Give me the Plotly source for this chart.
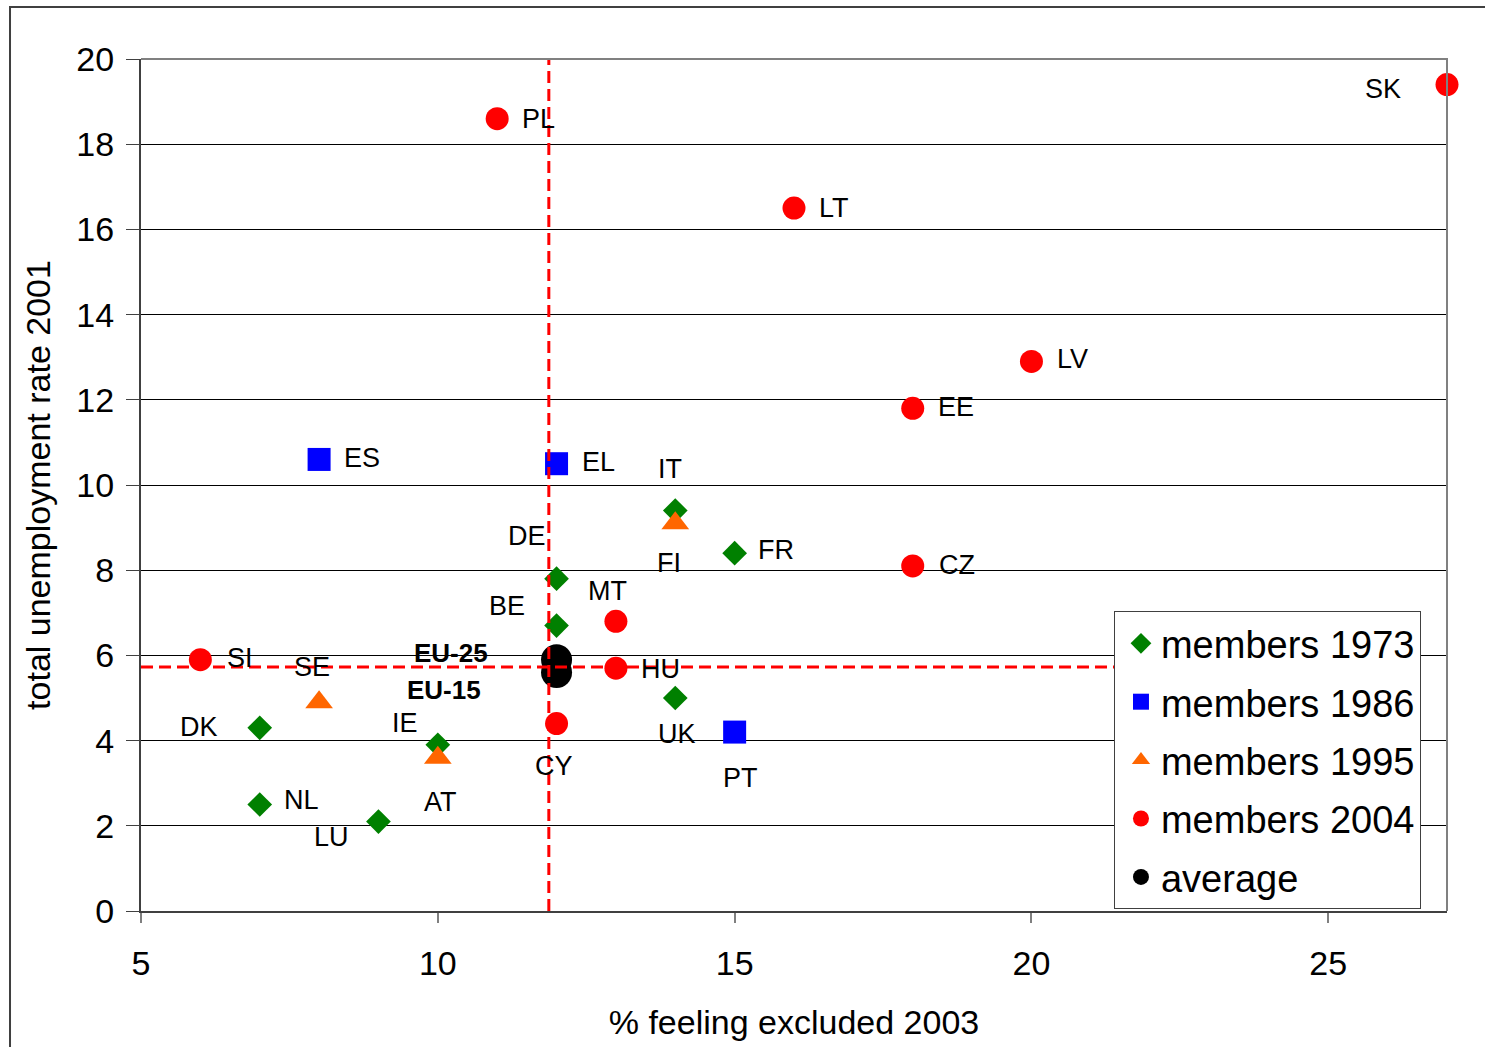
import plotly.graph_objects as go

# EU member states grouped by accession year: % feeling excluded (2003) vs unemployment (2001)
c1973 = ["IT", "FR", "DE", "BE", "UK", "DK", "IE", "NL", "LU"]
x1973 = [14, 15, 12, 12, 14, 7, 10, 7, 9]
y1973 = [9.4, 8.4, 7.8, 6.7, 5.0, 4.3, 3.9, 2.5, 2.1]

c1986 = ["ES", "EL", "PT"]
x1986 = [8, 12, 15]
y1986 = [10.6, 10.5, 4.2]

c1995 = ["FI", "SE", "AT"]
x1995 = [14, 8, 10]
y1995 = [9.1, 4.9, 3.6]

c2004 = ["SK", "PL", "LT", "LV", "EE", "CZ", "MT", "HU", "SI", "CY"]
x2004 = [27, 11, 16, 20, 18, 18, 13, 13, 6, 12]
y2004 = [19.4, 18.6, 16.5, 12.9, 11.8, 8.1, 6.8, 5.7, 5.9, 4.4]

c_avg = ["EU-25", "EU-15"]
x_avg = [12, 12]
y_avg = [5.9, 5.6]

# reference lines through the averages
ref_excluded = 11.87
ref_unemployment = 5.73

x_ticks = [5, 10, 15, 20, 25]
y_ticks = [0, 2, 4, 6, 8, 10, 12, 14, 16, 18, 20]

# label placement (pixel offsets from each marker)
label_offsets = {
    "SK": (-64, -4), "PL": (41, 0), "LT": (40, 0), "LV": (41, 2), "EE": (43, 1),
    "CZ": (44, 1), "ES": (43, 1), "EL": (42, 2), "IT": (-5, 42), "DE": (-30, 43),
    "FI": (-6, -40), "FR": (41, 3), "MT": (-8, 30), "BE": (-50, 20), "SI": (40, 2),
    "SE": (-7, 35), "EU-25": (-106, 7), "EU-15": (-113, -18), "HU": (45, -1),
    "UK": (2, -36), "DK": (-61, 1), "IE": (-33, 22), "CY": (-3, -42), "PT": (6, -46),
    "AT": (3, -44), "NL": (42, 5), "LU": (-47, -15),
}

FONT = "Liberation Sans, Arial, sans-serif"

groups = [
    ("members 1973", c1973, x1973, y1973, "diamond", "#008000", 19),
    ("members 1986", c1986, x1986, y1986, "square", "#0000FF", 23),
    ("members 1995", c1995, x1995, y1995, "triangle-up", "#FF6600", 24),
    ("members 2004", c2004, x2004, y2004, "circle", "#FF0000", 23),
    ("average", c_avg, x_avg, y_avg, "circle", "#000000", 31),
]

fig = go.Figure()
for name, codes, xs, ys, symbol, color, size in groups:
    fig.add_trace(go.Scatter(
        x=xs, y=ys, mode="markers", name=name, legendgroup=name, cliponaxis=False,
        marker=dict(symbol=symbol, color=color, size=size, line=dict(width=0)),
        hoverinfo="text", text=codes,
    ))

# dashed red average lines, drawn over the markers
fig.add_trace(go.Scatter(
    x=[ref_excluded, ref_excluded], y=[0, 20], mode="lines", showlegend=False,
    line=dict(color="#FF0000", width=3, dash="12px,6px"), hoverinfo="skip",
))
fig.add_trace(go.Scatter(
    x=[5, 22], y=[ref_unemployment, ref_unemployment], mode="lines", showlegend=False,
    line=dict(color="#FF0000", width=3, dash="12px,6px"), hoverinfo="skip",
))

annotations = []
for name, codes, xs, ys, *_ in groups:
    for code, xv, yv in zip(codes, xs, ys):
        dx, dy = label_offsets[code]
        bold = code.startswith("EU")
        annotations.append(dict(
            x=xv, y=yv, xref="x", yref="y", text=f"<b>{code}</b>" if bold else code,
            showarrow=False, xshift=dx, yshift=dy, xanchor="center", yanchor="middle",
            font=dict(family=FONT, size=26 if bold else 27, color="#000000"),
        ))

fig.update_layout(
    width=1485, height=1047,
    margin=dict(l=141, r=38, t=59, b=136, pad=0),
    paper_bgcolor="white", plot_bgcolor="white",
    font=dict(family=FONT, color="#000000"),
    annotations=annotations,
    legend=dict(
        x=0.745, y=0.352, xanchor="left", yanchor="top",
        bgcolor="white", bordercolor="#404040", borderwidth=1,
        font=dict(family=FONT, size=38, color="#000000"),
        traceorder="grouped", tracegroupgap=6, indentation=6,
    ),
    showlegend=True,
    shapes=[
        # gray frame on top and right of the plot area
        dict(type="path", xref="paper", yref="paper", path="M 0,1 L 1,1 L 1,0",
             line=dict(color="#808080", width=2)),
        # outer chart border
        dict(type="rect", xref="paper", yref="paper", x0=-0.1003, x1=1.2, y0=-0.3, y1=1.061,
             line=dict(color="#404040", width=2)),
    ],
)

fig.update_xaxes(
    range=[5, 27], tickvals=x_ticks, showgrid=False, zeroline=False,
    showline=True, linecolor="#404040", linewidth=2,
    ticks="outside", ticklen=10, tickcolor="#808080", tickwidth=2,
    ticklabelstandoff=11,
    tickfont=dict(family=FONT, size=34),
    title=dict(text="% feeling excluded 2003", font=dict(family=FONT, size=34), standoff=29),
)
fig.update_yaxes(
    range=[0, 20], tickvals=y_ticks, showgrid=True, gridcolor="#000000", gridwidth=1,
    zeroline=False, showline=True, linecolor="#404040", linewidth=2,
    ticks="outside", ticklen=13, tickcolor="#404040", tickwidth=1,
    ticklabelstandoff=5,
    tickfont=dict(family=FONT, size=34),
    title=dict(text="total unemployment rate 2001", font=dict(family=FONT, size=34), standoff=15),
)

fig.write_html("out.html")
